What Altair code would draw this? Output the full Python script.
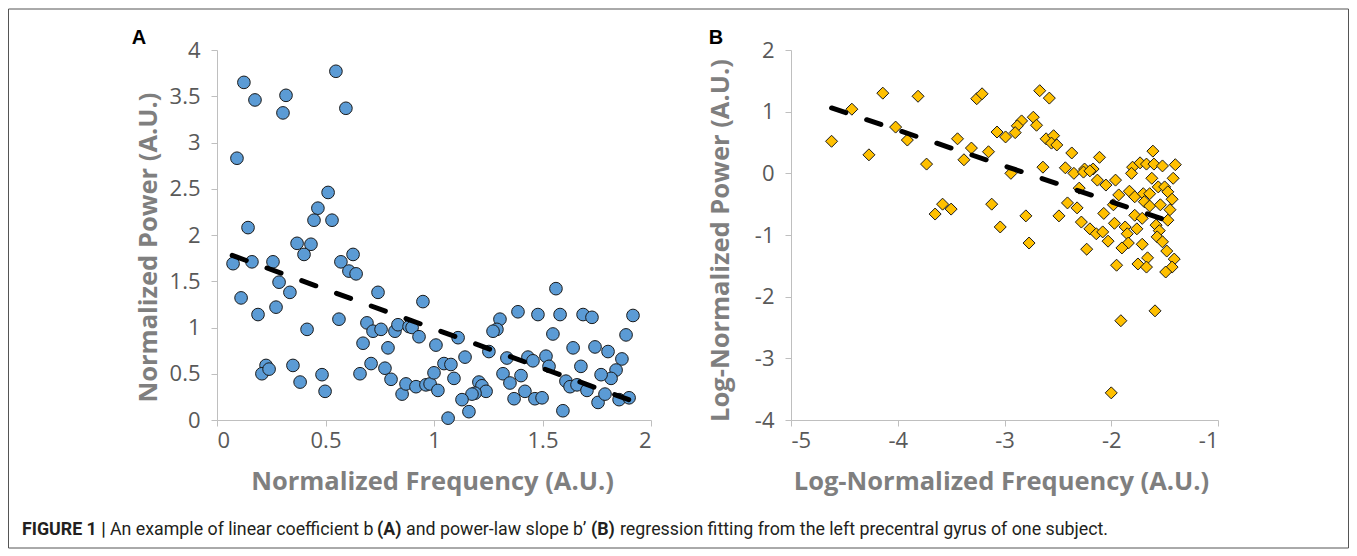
import altair as alt
import pandas as pd

# ---------------- data ----------------
a_x = [0.124, 0.175, 0.318, 0.304, 0.548, 0.594, 0.092, 0.512, 0.465, 0.447, 0.530, 0.143,
       0.369, 0.433, 0.401, 0.074, 0.161, 0.258, 0.286, 0.336, 0.111, 0.189, 0.272, 0.415,
       0.226, 0.207, 0.240, 0.350, 0.383, 0.484, 0.498, 0.571, 0.627, 0.608, 0.641, 0.562,
       0.742, 0.691, 0.719, 0.756, 0.673, 0.788, 0.820, 0.834, 0.885, 0.899, 0.931, 0.949,
       1.009, 0.659, 0.710, 0.774, 0.802, 0.853, 0.871, 0.917, 0.963, 0.982, 1.000, 1.018,
       1.562, 1.387, 1.479, 1.581, 1.687, 1.728, 1.917, 1.304, 1.290, 1.272, 1.548, 1.885,
       1.111, 1.143, 1.253, 1.336, 1.433, 1.456, 1.516, 1.530, 1.641, 1.742, 1.802, 1.866,
       1.839, 1.816, 1.770, 1.677, 1.046, 1.078, 1.092, 1.207, 1.221, 1.240, 1.189, 1.175,
       1.129, 1.161, 1.065, 1.318, 1.350, 1.401, 1.419, 1.369, 1.465, 1.498, 1.594, 1.608,
       1.627, 1.659, 1.705, 1.756, 1.788, 1.853, 1.899]
a_y = [3.65, 3.46, 3.51, 3.32, 3.77, 3.37, 2.83, 2.46, 2.29, 2.16, 2.16, 2.08,
       1.91, 1.90, 1.79, 1.69, 1.71, 1.71, 1.49, 1.38, 1.32, 1.14, 1.22, 0.98,
       0.59, 0.50, 0.55, 0.59, 0.41, 0.49, 0.31, 1.71, 1.79, 1.61, 1.58, 1.09,
       1.38, 1.05, 0.96, 0.98, 0.83, 0.78, 0.96, 1.03, 1.01, 1.00, 0.90, 1.28,
       0.81, 0.50, 0.61, 0.56, 0.44, 0.28, 0.39, 0.36, 0.38, 0.39, 0.51, 0.32,
       1.42, 1.17, 1.14, 1.14, 1.14, 1.11, 1.13, 1.09, 0.98, 0.96, 0.93, 0.92,
       0.89, 0.68, 0.74, 0.67, 0.68, 0.64, 0.69, 0.58, 0.78, 0.79, 0.74, 0.66,
       0.54, 0.45, 0.49, 0.58, 0.61, 0.60, 0.45, 0.41, 0.37, 0.31, 0.29, 0.28,
       0.22, 0.09, 0.02, 0.50, 0.40, 0.48, 0.31, 0.23, 0.23, 0.24, 0.10, 0.42,
       0.36, 0.38, 0.32, 0.19, 0.28, 0.22, 0.24]

b_x = [-4.14, -3.81, -3.26, -3.21, -4.43, -4.62, -4.02, -3.91, -4.27, -3.73, -3.44, -3.31,
       -3.15, -3.38, -3.07, -3.58, -3.65, -3.50, -3.12, -3.04, -2.67, -2.58, -2.73, -2.84,
       -2.70, -2.88, -2.90, -2.99, -2.61, -2.54, -2.56, -2.51, -2.37, -2.11, -1.61, -2.64,
       -2.43, -2.25, -2.17, -1.80, -1.73, -1.67, -1.60, -1.52, -1.40, -2.94, -2.35, -2.26,
       -2.13, -2.05, -1.96, -2.30, -1.81, -1.62, -1.42, -1.56, -1.50, -1.47, -1.43, -1.83,
       -1.93, -1.78, -1.70, -1.64, -1.69, -1.64, -1.54, -1.45, -1.98, -2.41, -2.32, -2.49,
       -2.07, -1.78, -1.71, -2.80, -2.77, -2.28, -2.20, -2.14, -2.08, -2.03, -1.97, -1.87,
       -1.76, -1.85, -1.84, -1.90, -1.71, -1.58, -1.55, -1.57, -1.52, -1.48, -2.23, -1.95,
       -1.75, -1.66, -1.67, -1.41, -1.43, -1.49, -1.59, -1.91, -2.00, -1.47, -2.20]
b_y = [1.30, 1.25, 1.21, 1.29, 1.04, 0.52, 0.75, 0.54, 0.30, 0.15, 0.56, 0.41,
       0.35, 0.22, 0.67, -0.50, -0.66, -0.58, -0.50, -0.87, 1.34, 1.22, 0.91, 0.85,
       0.78, 0.77, 0.66, 0.59, 0.56, 0.61, 0.49, 0.46, 0.33, 0.26, 0.36, 0.10,
       0.09, 0.07, 0.07, 0.10, 0.17, 0.15, 0.15, 0.12, 0.14, 0.00, 0.00, 0.02,
       -0.11, -0.19, -0.11, -0.24, 0.00, -0.08, -0.08, -0.22, -0.22, -0.30, -0.42, -0.29,
       -0.35, -0.38, -0.33, -0.33, -0.46, -0.53, -0.51, -0.59, -0.51, -0.48, -0.56, -0.69,
       -0.65, -0.68, -0.73, -0.69, -1.13, -0.79, -0.90, -0.98, -0.95, -1.10, -0.81, -0.87,
       -0.90, -0.98, -1.13, -1.21, -1.15, -0.84, -0.93, -1.03, -1.11, -1.26, -1.23, -1.49,
       -1.47, -1.37, -1.52, -1.39, -1.52, -1.60, -2.23, -2.39, -3.56, -0.76, 0.04]

a_fit_x = [0.07, 1.92]
a_fit_y = [1.78, 0.20]
b_fit_x = [-4.62, -1.38]
b_fit_y = [1.06, -0.82]

a_xticks = [0, 0.5, 1, 1.5, 2]
a_yticks = [0, 0.5, 1, 1.5, 2, 2.5, 3, 3.5, 4]
b_xticks = [-5, -4, -3, -2, -1]
b_yticks = [-4, -3, -2, -1, 0, 1, 2]

a_xtitle = "Normalized Frequency (A.U.)"
a_ytitle = "Normalized Power (A.U.)"
b_xtitle = "Log-Normalized Frequency (A.U.)"
b_ytitle = "Log-Normalized Power (A.U.)"

caption_parts = ["FIGURE 1 |", "An example of linear coefficient b", "(A)",
                 "and power-law slope b\u2019", "(B)",
                 "regression fitting from the left precentral gyrus of one subject."]
caption_bold = [True, False, True, False, True, False]

# ---------------- styling ----------------
W_A, W_B, H = 434, 427, 370
TICK_FONT = "Open Sans"
TITLE_FONT = "Open Sans"


def make_axis(values, title, tx, ty, orient):
    return alt.Axis(values=values, labelExpr="datum.value + ''", grid=False,
                    domainColor="#bfbfbf", tickColor="#bfbfbf", tickSize=6,
                    labelFont=TICK_FONT, labelFontSize=22, labelColor="#595959",
                    labelPadding=11 if orient == "left" else 4,
                    title=title, titleFont=TITLE_FONT, titleFontSize=25.5,
                    titleFontWeight="bold", titleColor="#7f7f7f",
                    titleX=tx, titleY=ty, titleAlign="center", titleBaseline="middle")


df_a = pd.DataFrame({"x": a_x, "y": a_y})
df_b = pd.DataFrame({"x": b_x, "y": b_y})
fit_a = pd.DataFrame({"x": a_fit_x, "y": a_fit_y})
fit_b = pd.DataFrame({"x": b_fit_x, "y": b_fit_y})
one = pd.DataFrame({"k": [0]})

xa = alt.X("x:Q", scale=alt.Scale(domain=[0, 2], nice=False),
           axis=make_axis(a_xticks, a_xtitle, W_A / 2 - 2, 61, "bottom"))
ya = alt.Y("y:Q", scale=alt.Scale(domain=[0, 4], nice=False),
           axis=make_axis(a_yticks, a_ytitle, -69, 197, "left"))

pts_a = alt.Chart(df_a).mark_point(shape="circle", filled=True, fill="#5b9bd5",
                                   stroke="#1a1a1a", strokeWidth=1, size=160, opacity=1).encode(x=xa, y=ya)
line_a = alt.Chart(fit_a).mark_line(color="black", strokeWidth=5, strokeDash=[15, 22],
                                    strokeCap="round").encode(x="x:Q", y="y:Q")
lab_a = alt.Chart(one).mark_text(text="A", font="Liberation Sans", fontWeight="bold",
                                 fontSize=20, color="black", align="center",
                                 baseline="middle").encode(x=alt.value(-78), y=alt.value(-12))

border = alt.Chart(one).mark_rect(fill="white", fillOpacity=0, stroke="#555555",
                                  strokeWidth=1).encode(
    x=alt.value(-208.5), x2=alt.value(1131.5), y=alt.value(-41), y2=alt.value(498))

cap_x = [-195, -107, 160, 189, 374, 403]
cap_layers = []
for txt, bold, cx in zip(caption_parts, caption_bold, cap_x):
    cap_layers.append(
        alt.Chart(one).mark_text(text=txt, font="Roboto", fontSize=17.8,
                                 fontWeight="bold" if bold else "normal",
                                 color="#231f20", align="left", baseline="middle")
        .encode(x=alt.value(cx), y=alt.value(480)))

panel_a = alt.layer(border, pts_a, line_a, lab_a, *cap_layers).properties(width=W_A, height=H)

xb = alt.X("x:Q", scale=alt.Scale(domain=[-5, -1], nice=False),
           axis=make_axis(b_xticks, b_xtitle, 210, 61, "bottom"))
yb = alt.Y("y:Q", scale=alt.Scale(domain=[-4, 2], nice=False),
           axis=make_axis(b_yticks, b_ytitle, -71, 190, "left"))

pts_b = alt.Chart(df_b).mark_point(shape="diamond", filled=True, fill="#ffc000",
                                   stroke="#1a1a1a", strokeWidth=1, size=144, opacity=1).encode(x=xb, y=yb)
line_b = alt.Chart(fit_b).mark_line(color="black", strokeWidth=5, strokeDash=[15, 22],
                                    strokeCap="round").encode(x="x:Q", y="y:Q")
lab_b = alt.Chart(one).mark_text(text="B", font="Liberation Sans", fontWeight="bold",
                                 fontSize=20, color="black", align="center",
                                 baseline="middle").encode(x=alt.value(-75), y=alt.value(-12))

panel_b = alt.layer(pts_b, line_b, lab_b).properties(width=W_B, height=H)

chart = alt.hconcat(panel_a, panel_b, spacing=140, bounds="flush").properties(
    padding=0, background="white"
).configure_view(stroke=None)

chart.save("out.html", embed_options={"renderer": "svg", "actions": False})
